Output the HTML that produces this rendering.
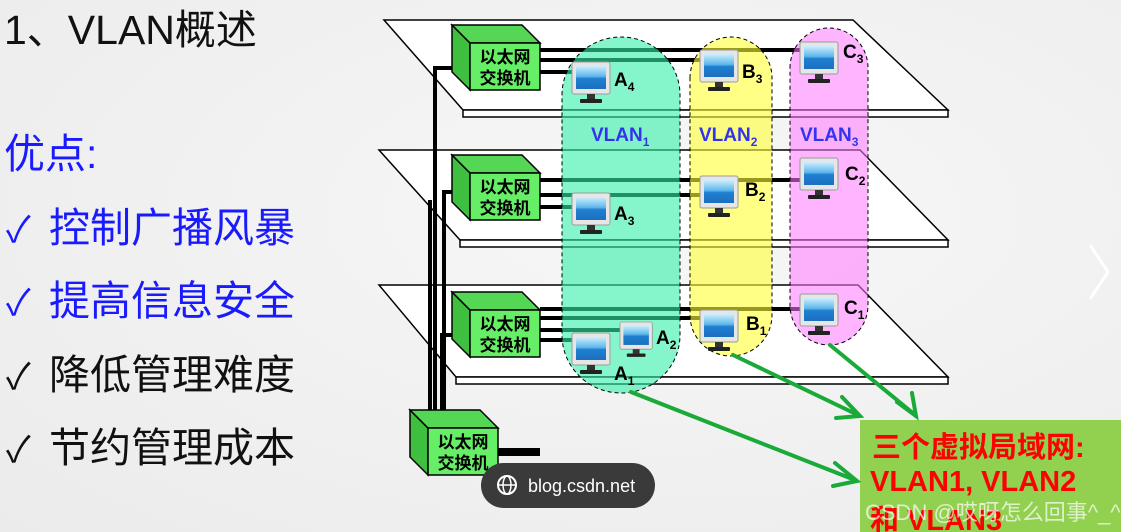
<!DOCTYPE html>
<html><head><meta charset="utf-8"><style>
html,body{margin:0;padding:0;}
body{width:1121px;height:532px;overflow:hidden;background:radial-gradient(ellipse at 60% 40%,#f7f7f7,#ebebeb);}
svg{position:absolute;left:0;top:0;}
</style></head><body>
<svg width="1121" height="532" viewBox="0 0 1121 532" xmlns="http://www.w3.org/2000/svg">
<defs>
<linearGradient id="scr" x1="0" y1="0" x2="0" y2="1"><stop offset="0" stop-color="#cfeefc"/><stop offset="0.45" stop-color="#5fb8ec"/><stop offset="0.55" stop-color="#1f7fd0"/><stop offset="1" stop-color="#1c6fbf"/></linearGradient>
<g id="pc">
<rect x="0" y="0" width="38" height="32" rx="2" fill="#e6e6e6" stroke="#9a9a9a"/>
<rect x="4" y="4" width="30" height="23" fill="url(#scr)"/>
<rect x="15" y="32" width="8" height="5" fill="#333"/>
<rect x="8" y="37" width="22" height="4" rx="1" fill="#222"/>
</g>
<g id="sw">
<polygon points="-18,-18 0,0 0,47 -18,29" fill="#3fbf3f" stroke="#000" stroke-width="1.5"/>
<polygon points="-18,-18 52,-18 70,0 0,0" fill="#55d655" stroke="#000" stroke-width="1.5"/>
<rect x="0" y="0" width="70" height="47" fill="#66ee66" stroke="#000" stroke-width="1.5"/>
<text x="35" y="20" text-anchor="middle" font-family="Liberation Sans,'Noto Sans CJK SC',sans-serif" font-weight="bold" font-size="17">以太网</text>
<text x="35" y="41" text-anchor="middle" font-family="Liberation Sans,'Noto Sans CJK SC',sans-serif" font-weight="bold" font-size="17">交换机</text>
</g>
</defs>

<!-- left text -->
<g font-family="'Liberation Sans','Noto Sans CJK SC',sans-serif">
<text x="4" y="44" font-size="41" fill="#111">1、VLAN概述</text>
<text x="4" y="168" font-size="41" fill="#1a1aff">优点:</text>
<text x="6" y="242" font-size="41" fill="#1a1aff"><tspan font-size="36">✓</tspan><tspan x="49">控制广播风暴</tspan></text>
<text x="6" y="315" font-size="41" fill="#1a1aff"><tspan font-size="36">✓</tspan><tspan x="49">提高信息安全</tspan></text>
<text x="6" y="389" font-size="41" fill="#111"><tspan font-size="36">✓</tspan><tspan x="49">降低管理难度</tspan></text>
<text x="6" y="462" font-size="41" fill="#111"><tspan font-size="36">✓</tspan><tspan x="49">节约管理成本</tspan></text>
</g>

<!-- planes -->
<g stroke="#000" stroke-width="1.5">
<polygon points="384,20 853,20 948,110 463,110" fill="#fff"/>
<polygon points="463,110 948,110 948,117 463,117" fill="#fff"/>
<polygon points="379,150 860,150 948,240 460,240" fill="#fff"/>
<polygon points="460,240 948,240 948,247 460,247" fill="#fff"/>
<polygon points="379,285 858,285 948,377 456,377" fill="#fff"/>
<polygon points="456,377 948,377 948,384 456,384" fill="#fff"/>
</g>

<!-- vertical cables -->
<g stroke="#000" stroke-width="4" fill="none">
<polyline points="468,68 435,68 435,410"/>
<polyline points="470,192 444,192 444,410"/>
<polyline points="470,335 442,335 442,410"/>
<line x1="430" y1="200" x2="430" y2="410"/>
<line x1="496" y1="452" x2="540" y2="452" stroke-width="8"/>
</g>

<!-- horizontal cables -->
<g stroke="#000" stroke-width="4">
<line x1="540" y1="50" x2="810" y2="50"/>
<line x1="540" y1="60" x2="720" y2="60"/>
<line x1="540" y1="72" x2="580" y2="72"/>
<line x1="540" y1="180" x2="810" y2="180"/>
<line x1="540" y1="195" x2="705" y2="195"/>
<line x1="540" y1="207" x2="575" y2="207"/>
<line x1="540" y1="309" x2="805" y2="309"/>
<line x1="540" y1="318" x2="705" y2="318"/>
<line x1="540" y1="330" x2="625" y2="330"/>
<line x1="540" y1="340" x2="575" y2="340"/>
</g>

<!-- vlan pills -->
<g stroke="#000" stroke-width="1" stroke-dasharray="4,3">
<path d="M562,95 A59,58 0 0 1 680,95 L680,335 A59,58 0 0 1 562,335 Z" fill="#33f0a8" fill-opacity="0.6"/>
<path d="M690,78 A41,41 0 0 1 772,78 L772,315 A41,41 0 0 1 690,315 Z" fill="#ffff33" fill-opacity="0.6"/>
<path d="M790,68 A39,40 0 0 1 868,68 L868,305 A39,40 0 0 1 790,305 Z" fill="#ff77ff" fill-opacity="0.55"/>
</g>

<!-- VLAN labels -->
<g font-family="'Liberation Sans',sans-serif" font-weight="bold" font-size="19" fill="#3333ee">
<text x="591" y="141">VLAN<tspan font-size="12" dy="5">1</tspan></text>
<text x="699" y="141">VLAN<tspan font-size="12" dy="5">2</tspan></text>
<text x="800" y="141">VLAN<tspan font-size="12" dy="5">3</tspan></text>
</g>

<!-- switches -->
<use href="#sw" x="470" y="43"/>
<use href="#sw" x="470" y="173"/>
<use href="#sw" x="470" y="310"/>
<use href="#sw" x="428" y="428"/>

<!-- computers -->
<use href="#pc" x="572" y="62"/>
<use href="#pc" x="700" y="50"/>
<use href="#pc" x="800" y="42"/>
<use href="#pc" x="572" y="193"/>
<use href="#pc" x="700" y="176"/>
<use href="#pc" x="800" y="158"/>
<use href="#pc" x="572" y="333"/>
<use href="#pc" x="620" y="322" transform="translate(620,322) scale(0.85) translate(-620,-322)"/>
<use href="#pc" x="700" y="310"/>
<use href="#pc" x="800" y="294"/>

<g font-family="'Liberation Sans',sans-serif" font-weight="bold" font-size="19" fill="#000">
<text x="614" y="86">A<tspan font-size="12" dy="5">4</tspan></text>
<text x="742" y="78">B<tspan font-size="12" dy="5">3</tspan></text>
<text x="843" y="58">C<tspan font-size="12" dy="5">3</tspan></text>
<text x="614" y="220">A<tspan font-size="12" dy="5">3</tspan></text>
<text x="745" y="196">B<tspan font-size="12" dy="5">2</tspan></text>
<text x="845" y="180">C<tspan font-size="12" dy="5">2</tspan></text>
<text x="656" y="344">A<tspan font-size="12" dy="5">2</tspan></text>
<text x="614" y="380">A<tspan font-size="12" dy="5">1</tspan></text>
<text x="746" y="330">B<tspan font-size="12" dy="5">1</tspan></text>
<text x="844" y="314">C<tspan font-size="12" dy="5">1</tspan></text>
</g>

<!-- green box -->
<rect x="860" y="420" width="261" height="112" fill="#92d050"/>
<g font-family="'Liberation Sans','Noto Sans CJK SC',sans-serif" font-weight="bold" font-size="29" fill="#ff0000">
<text x="872" y="457">三个虚拟局域网:</text>
<text x="870" y="491">VLAN1, VLAN2</text>
<text x="870" y="530">和 VLAN3</text>
</g>
<text x="865" y="520" font-family="'Liberation Sans','Noto Sans CJK SC',sans-serif" font-size="22" fill="#ffffff" fill-opacity="0.7">CSDN @哎呀怎么回事^_^</text>

<!-- arrows -->
<g stroke="#1aaa3a" stroke-width="4" fill="none" stroke-linecap="round">
<line x1="631" y1="392" x2="855" y2="480"/>
<polyline points="835,463 857,481 833,486"/>
<line x1="733" y1="355" x2="858" y2="415"/>
<polyline points="842,397 860,416 836,418"/>
<line x1="830" y1="345" x2="914" y2="414"/>
<polyline points="897,402 916,416 912,393"/>
</g>

<!-- watermark pill -->
<rect x="481" y="463" width="174" height="45" rx="22.5" fill="#3a3a3a"/>
<circle cx="507" cy="485" r="9" fill="none" stroke="#fff" stroke-width="2"/>
<line x1="498" y1="485" x2="516" y2="485" stroke="#fff" stroke-width="1.5"/>
<ellipse cx="507" cy="485" rx="4" ry="9" fill="none" stroke="#fff" stroke-width="1.5"/>
<text x="528" y="492" font-family="'Liberation Sans',sans-serif" font-size="18" fill="#fff">blog.csdn.net</text>

<!-- right chevron -->
<polyline points="1090,245 1108,272 1090,299" fill="none" stroke="#ffffff" stroke-width="3"/>
</svg>
</body></html>
